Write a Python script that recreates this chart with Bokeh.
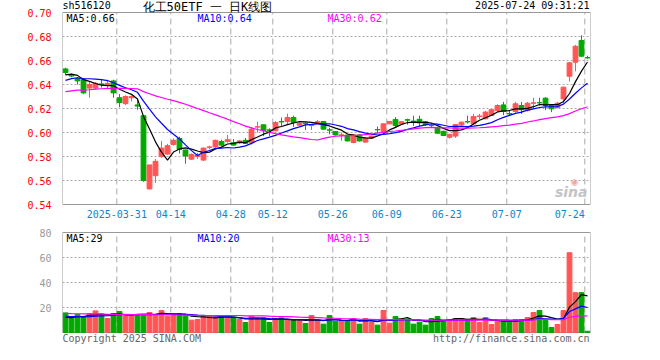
import numpy as np
from bokeh.plotting import figure
from bokeh.models import Range1d, FixedTicker, Label, ColumnDataSource, PrintfTickFormatter
from bokeh.layouts import column
from bokeh.embed import file_html
from bokeh.resources import INLINE

# ---------------- data ----------------
dates = [
    "2025-03-18", "2025-03-19", "2025-03-20", "2025-03-21", "2025-03-24", "2025-03-25", "2025-03-26", "2025-03-27",
    "2025-03-28", "2025-03-31", "2025-04-01", "2025-04-02", "2025-04-03", "2025-04-07", "2025-04-08", "2025-04-09",
    "2025-04-10", "2025-04-11", "2025-04-14", "2025-04-15", "2025-04-16", "2025-04-17", "2025-04-18", "2025-04-21",
    "2025-04-22", "2025-04-23", "2025-04-24", "2025-04-25", "2025-04-28", "2025-04-29", "2025-04-30", "2025-05-06",
    "2025-05-07", "2025-05-08", "2025-05-09", "2025-05-12", "2025-05-13", "2025-05-14", "2025-05-15", "2025-05-16",
    "2025-05-19", "2025-05-20", "2025-05-21", "2025-05-22", "2025-05-23", "2025-05-26", "2025-05-27", "2025-05-28",
    "2025-05-29", "2025-05-30", "2025-06-03", "2025-06-04", "2025-06-05", "2025-06-06", "2025-06-09", "2025-06-10",
    "2025-06-11", "2025-06-12", "2025-06-13", "2025-06-16", "2025-06-17", "2025-06-18", "2025-06-19", "2025-06-20",
    "2025-06-23", "2025-06-24", "2025-06-25", "2025-06-26", "2025-06-27", "2025-06-30", "2025-07-01", "2025-07-02",
    "2025-07-03", "2025-07-04", "2025-07-07", "2025-07-08", "2025-07-09", "2025-07-10", "2025-07-11", "2025-07-14",
    "2025-07-15", "2025-07-16", "2025-07-17", "2025-07-18", "2025-07-21", "2025-07-22", "2025-07-23", "2025-07-24",
]

opens = [
    0.653, 0.648, 0.645, 0.644, 0.637, 0.637, 0.6405, 0.640, 0.643, 0.629, 0.624, 0.629, 0.623, 0.614, 0.553, 0.564,
    0.580, 0.582, 0.590, 0.595, 0.5855, 0.5778, 0.580, 0.577, 0.5875, 0.588, 0.5925, 0.5925, 0.5915, 0.5913, 0.5935, 0.5917,
    0.6045, 0.6064, 0.6022, 0.6014, 0.6092, 0.6092, 0.6125, 0.6061, 0.6077, 0.6058, 0.6075, 0.6092, 0.6022, 0.6008, 0.5978, 0.5978,
    0.5917, 0.598, 0.592, 0.5953, 0.6025, 0.6003, 0.6072, 0.6108, 0.607, 0.6107, 0.6095, 0.611, 0.609, 0.6062, 0.6036, 0.601,
    0.596, 0.597, 0.6064, 0.6092, 0.6072, 0.6133, 0.6114, 0.6142, 0.6183, 0.623, 0.6158, 0.6175, 0.6225, 0.6183, 0.6244, 0.6249,
    0.6286, 0.6225, 0.6208, 0.628, 0.6469, 0.6586, 0.6767, 0.6624,
]
highs = [
    0.654, 0.649, 0.646, 0.645, 0.642, 0.642, 0.6445, 0.644, 0.644, 0.632, 0.631, 0.631, 0.628, 0.614, 0.573, 0.578,
    0.593, 0.5905, 0.595, 0.5965, 0.5855, 0.5825, 0.583, 0.5875, 0.589, 0.594, 0.594, 0.598, 0.5945, 0.5935, 0.5955, 0.6045,
    0.609, 0.6068, 0.6035, 0.6095, 0.6125, 0.6158, 0.614, 0.6085, 0.6085, 0.6072, 0.6105, 0.6095, 0.604, 0.601, 0.600, 0.598,
    0.5985, 0.5985, 0.596, 0.5975, 0.605, 0.6075, 0.6095, 0.6128, 0.6095, 0.6115, 0.614, 0.614, 0.6095, 0.6075, 0.6045, 0.6015,
    0.599, 0.607, 0.609, 0.614, 0.6155, 0.6155, 0.618, 0.6195, 0.6235, 0.6255, 0.6185, 0.6255, 0.6255, 0.6255, 0.629, 0.629,
    0.6295, 0.623, 0.6255, 0.638, 0.659, 0.673, 0.681, 0.664,
]
lows = [
    0.648, 0.646, 0.640, 0.632, 0.629, 0.636, 0.6375, 0.636, 0.629, 0.621, 0.623, 0.626, 0.619, 0.559, 0.5525, 0.558,
    0.579, 0.5815, 0.589, 0.5825, 0.574, 0.5772, 0.578, 0.5765, 0.586, 0.5875, 0.5885, 0.5915, 0.589, 0.5905, 0.5905, 0.590,
    0.600, 0.597, 0.597, 0.601, 0.6056, 0.607, 0.6047, 0.6055, 0.602, 0.602, 0.6068, 0.6025, 0.5985, 0.5975, 0.593, 0.5925,
    0.591, 0.5925, 0.5915, 0.595, 0.5995, 0.600, 0.607, 0.6045, 0.6065, 0.6065, 0.6055, 0.6055, 0.6055, 0.6045, 0.599, 0.597,
    0.595, 0.5955, 0.6055, 0.6075, 0.607, 0.611, 0.611, 0.614, 0.6175, 0.6145, 0.6145, 0.6165, 0.6155, 0.6175, 0.620, 0.6225,
    0.6185, 0.617, 0.620, 0.624, 0.6425, 0.651, 0.663, 0.6614,
]
closes = [
    0.650, 0.647, 0.643, 0.633, 0.640, 0.641, 0.640, 0.641, 0.633, 0.625, 0.630, 0.630, 0.622, 0.560, 0.573, 0.576,
    0.587, 0.589, 0.5935, 0.586, 0.5805, 0.5818, 0.581, 0.587, 0.588, 0.5935, 0.5895, 0.594, 0.5895, 0.593, 0.591, 0.6028,
    0.6048, 0.6014, 0.6018, 0.6083, 0.6088, 0.6125, 0.6083, 0.6075, 0.6073, 0.6062, 0.609, 0.6028, 0.602, 0.598, 0.598, 0.593,
    0.598, 0.593, 0.5953, 0.597, 0.6022, 0.6072, 0.6092, 0.6058, 0.609, 0.6103, 0.609, 0.608, 0.6065, 0.6058, 0.5994, 0.5975,
    0.5985, 0.6067, 0.6086, 0.6088, 0.6133, 0.6138, 0.617, 0.619, 0.6225, 0.6175, 0.6155, 0.6239, 0.619, 0.6244, 0.6247, 0.6247,
    0.6225, 0.6197, 0.6244, 0.6378, 0.6581, 0.6719, 0.6636, 0.6622,
]
volumes = [
    15.7, 11.2, 14.6, 12.0, 15.2, 17.3, 14.6, 11.2, 15.2, 16.8, 13.3, 13.3, 14.4, 14.4, 16.0, 14.6,
    17.6, 13.0, 13.6, 15.2, 13.8, 9.9, 10.4, 13.0, 13.0, 12.5, 12.5, 11.2, 12.0, 10.4, 8.0, 13.0,
    11.2, 11.7, 8.0, 10.9, 11.7, 9.9, 9.3, 9.9, 7.2, 13.6, 9.9, 6.7, 13.6, 9.1, 9.3, 9.3,
    11.2, 6.7, 11.2, 8.0, 5.9, 17.6, 7.5, 12.8, 11.2, 10.9, 6.7, 8.3, 5.9, 11.2, 12.8, 9.6,
    10.4, 11.2, 11.2, 9.9, 12.0, 8.0, 12.0, 6.4, 9.6, 9.1, 9.1, 10.4, 10.4, 12.0, 16.0, 17.6,
    9.6, 4.0, 6.4, 17.6, 63.8, 31.9, 31.9, 1.0,
]
# closes / volumes of the sessions just before the first visible one (only used for the moving averages)
prior_close = [
    0.626, 0.628, 0.631, 0.630, 0.627, 0.629, 0.632, 0.631, 0.628, 0.630, 0.632, 0.630,
    0.629, 0.627, 0.630, 0.628, 0.631, 0.629, 0.630, 0.628,
    0.633, 0.636, 0.640, 0.641, 0.645,
    0.644, 0.648, 0.651, 0.647,
]
prior_volume = [
    16.0, 17.0, 15.5, 16.8, 16.2, 17.5, 15.8, 16.4, 16.9, 15.6, 16.3, 17.1, 15.9, 16.6, 16.1, 16.8, 15.7, 16.4, 16.2, 16.2,
    14.5, 13.2, 14.8, 13.6, 13.9,
    11.5, 10.8, 11.9, 10.1,
]

tick_dates = ["2025-03-31", "2025-04-14", "2025-04-28", "2025-05-12", "2025-05-26",
              "2025-06-09", "2025-06-23", "2025-07-07", "2025-07-24"]
price_ticks = [0.54, 0.56, 0.58, 0.60, 0.62, 0.64, 0.66, 0.68, 0.70]
volume_ticks = [20, 40, 60, 80]

code = "sh516120"
title_text = "化工50ETF 一 日K线图"
stamp = "2025-07-24 09:31:21"
price_ma_text = ["MA5:0.66", "MA10:0.64", "MA30:0.62"]
volume_ma_text = ["MA5:29", "MA10:20", "MA30:13"]

# ---------------- derived ----------------
RED = "#ff5555"
GREEN = "#00a800"
BOX = "#999999"
GRID = "#aaaaaa"
MA_COLORS = ["#000000", "#0000ff", "#ff00ff"]
MONO = "DejaVu Sans Mono"

n = len(dates)
xs = list(range(n))
colors = [RED if c >= o else GREEN for o, c in zip(opens, closes)]
body_top = [max(o, c) for o, c in zip(opens, closes)]
body_bot = [min(o, c) for o, c in zip(opens, closes)]


def moving(prior, vals, w):
    full = np.array(prior + vals, dtype=float)
    out = np.convolve(full, np.ones(w) / w, mode="valid")
    return list(out[-len(vals):])


src = ColumnDataSource(dict(x=xs, o=opens, h=highs, l=lows, c=closes, top=body_top, bot=body_bot,
                            color=colors, vol=volumes,
                            ma5=moving(prior_close, closes, 5), ma10=moving(prior_close, closes, 10),
                            ma30=moving(prior_close, closes, 30),
                            vma5=moving(prior_volume, volumes, 5), vma10=moving(prior_volume, volumes, 10),
                            vma30=moving(prior_volume, volumes, 30)))

tick_idx = [dates.index(d) for d in tick_dates]
grid_x = [i - 0.45 for i in tick_idx]
tick_labels = [tick_dates[0]] + [d[5:] for d in tick_dates[1:]]

# ---------------- layout (pixels) ----------------
W = 644
L, R = 62, 54
FW = W - L - R              # plotting width
H1, PAD_T1, PAD_B1 = 228, 12, 24   # price figure: box 192 px tall
H2, PAD_T2, PAD_B2 = 116, 4, 12    # volume figure: box 100 px tall
xr = Range1d(-0.5, n - 0.5)


def make_fig(height, lo, hi, pad_t, pad_b):
    box_h = height - pad_t - pad_b
    ppu = box_h / (hi - lo)
    fig = figure(width=W, height=height, x_range=xr,
                 y_range=Range1d(lo - pad_b / ppu, hi + pad_t / ppu),
                 output_backend="svg", toolbar_location=None, title=None,
                 min_border_left=L, min_border_right=R, min_border_top=0, min_border_bottom=0)
    fig.outline_line_color = None
    fig.background_fill_color = "white"
    fig.border_fill_color = "white"
    fig.xaxis.visible = False
    fig.xgrid.visible = False
    fig.yaxis.axis_line_color = None
    fig.yaxis.major_tick_line_color = None
    fig.yaxis.minor_tick_line_color = None
    fig.yaxis.major_label_text_font = MONO
    fig.yaxis.major_label_text_font_size = "10px"
    fig.yaxis.major_label_standoff = 5
    fig.ygrid.grid_line_color = GRID
    fig.ygrid.grid_line_dash = "2 2"
    # vertical dashed date lines and the box
    fig.segment(x0=grid_x, x1=grid_x, y0=[lo] * len(grid_x), y1=[hi] * len(grid_x),
                line_color=GRID, line_dash="6 4", line_width=1)
    fig.quad(left=[-0.5], right=[n - 0.5], bottom=[lo], top=[hi], fill_color=None,
             line_color=BOX, line_width=1)
    return fig, ppu


def note(fig, x, y, text, color, size="10px", font=MONO, align="left", units_x="screen", style_=None):
    kw = dict(x=x, y=y, x_units=units_x, y_units="data", text=text, text_font=font,
              text_font_size=size, text_color=color, text_baseline="middle", text_align=align)
    if style_:
        kw["text_font_style"] = style_
    fig.add_layout(Label(**kw))


# ---------------- price panel ----------------
plo, phi = price_ticks[0], price_ticks[-1]
p, ppu1 = make_fig(H1, plo, phi, PAD_T1, PAD_B1)
p.yaxis.ticker = FixedTicker(ticks=price_ticks)
p.yaxis.formatter = PrintfTickFormatter(format="%.2f")
p.yaxis.major_label_text_color = "#ff0000"
p.ygrid.ticker = FixedTicker(ticks=price_ticks[1:-1])

p.segment(x0="x", y0="l", x1="x", y1="h", color="color", line_width=1, source=src)
p.vbar(x="x", width=0.8, top="top", bottom="bot", fill_color="color", line_color="color",
       line_width=1, source=src)
for key, col in zip(["ma5", "ma10", "ma30"], MA_COLORS):
    p.line(x="x", y=key, color=col, line_width=1.2, source=src)

for txt, sx, col in zip(price_ma_text, [4, 135, 265], MA_COLORS):
    note(p, sx, phi - 6 / ppu1, txt, col)

note(p, 0, phi + 7 / ppu1, code, "#000000")
note(p, 80, phi + 5.5 / ppu1, title_text, "#000000", size="12px", font=MONO)
note(p, FW - 1, phi + 7 / ppu1, stamp, "#000000", align="right")

for k, (gx, lab) in enumerate(zip(grid_x, tick_labels)):
    last = k == len(grid_x) - 1
    note(p, gx, plo - 9 / ppu1, lab, "#0a86d0", align="right" if last else "center", units_x="data")

# faint "sina" watermark with its eye logo
note(p, FW - 16, plo + 23 / ppu1, "◉", "#f2a8a8", size="9px", font="DejaVu Sans", align="center")
note(p, FW - 3, plo + 13 / ppu1, "sina", "#c4c4c4", size="14px", font="DejaVu Sans", align="right",
     style_="bold italic")

# ---------------- volume panel ----------------
vlo, vhi = 0, volume_ticks[-1]
q, ppu2 = make_fig(H2, vlo, vhi, PAD_T2, PAD_B2)
q.yaxis.ticker = FixedTicker(ticks=volume_ticks)
q.yaxis.formatter = PrintfTickFormatter(format="%d")
q.yaxis.major_label_text_color = "#999999"
q.ygrid.ticker = FixedTicker(ticks=volume_ticks[:-1])

q.vbar(x="x", width=0.8, top="vol", bottom=0, fill_color="color", line_color="color",
       line_width=1, source=src)
for key, col in zip(["vma5", "vma10", "vma30"], MA_COLORS):
    q.line(x="x", y=key, color=col, line_width=1.2, source=src)

for txt, sx, col in zip(volume_ma_text, [4, 135, 265], MA_COLORS):
    note(q, sx, vhi - 6 / ppu2, txt, col)

note(q, -3, vlo - 1 / ppu2, "x万", "#aaaaaa", size="9px", font="Noto Sans CJK SC", align="right")
note(q, 0, vlo - 6 / ppu2, "Copyright 2025 SINA.COM", "#666666")
note(q, FW - 1, vlo - 6 / ppu2, "http://finance.sina.com.cn", "#666666", align="right")

layout = column(p, q, spacing=0)
open("out.html", "w").write(file_html(layout, INLINE))
